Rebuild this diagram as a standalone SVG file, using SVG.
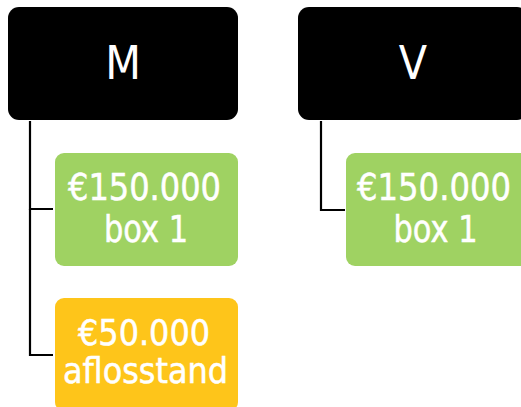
<svg xmlns="http://www.w3.org/2000/svg" width="521" height="407" viewBox="0 0 521 407">
  <style>
    .head { fill: #000000; }
    .green { fill: #9fd262; }
    .orange { fill: #fec51a; }
    .lbl { fill: #ffffff; font-family: "DejaVu Sans Condensed", "DejaVu Sans", sans-serif; text-anchor: middle; }
    .big { font-size: 46px; }
    .mid { font-size: 33px; stroke: #ffffff; stroke-width: 0.45; }
    .sml { font-size: 31px; stroke: #ffffff; stroke-width: 0.45; }
    .link { fill: none; stroke: #000000; stroke-width: 2.2; }
  </style>
  <rect width="521" height="407" fill="#ffffff"/>

  <g id="connectors">
    <path class="link" d="M30,121 V209 H53"/>
    <path class="link" d="M30,209 V355 H53"/>
    <path class="link" d="M321,121 V210 H345" stroke-width="1.7"/>
  </g>

  <g id="node-M">
    <rect class="head" x="8" y="7" width="230" height="113" rx="11"/>
    <text class="lbl big" x="123" y="79">M</text>
  </g>

  <g id="node-V">
    <rect class="head" x="298" y="7" width="230" height="113" rx="11"/>
    <text class="lbl big" x="413" y="79">V</text>
  </g>

  <!-- value labels are drawn slightly taller than the font's natural proportions -->
  <g id="node-M-box1">
    <rect class="green" x="55" y="153" width="183" height="113" rx="9"/>
    <text class="lbl mid" transform="translate(144.5,200) scale(1,1.12)" textLength="153" lengthAdjust="spacingAndGlyphs">€150.000</text>
    <text class="lbl mid" transform="translate(146,242) scale(1,1.12)" textLength="84" lengthAdjust="spacingAndGlyphs">box 1</text>
  </g>

  <g id="node-M-aflosstand">
    <rect class="orange" x="55" y="298" width="183" height="113" rx="9"/>
    <text class="lbl sml" transform="translate(144,345) scale(1,1.12)" textLength="132" lengthAdjust="spacingAndGlyphs">€50.000</text>
    <text class="lbl sml" transform="translate(145.5,383) scale(1,1.12)" textLength="165" lengthAdjust="spacingAndGlyphs">aflosstand</text>
  </g>

  <g id="node-V-box1">
    <rect class="green" x="346" y="153" width="183" height="113" rx="9"/>
    <text class="lbl mid" transform="translate(434,200) scale(1,1.12)" textLength="154" lengthAdjust="spacingAndGlyphs">€150.000</text>
    <text class="lbl mid" transform="translate(435.5,242) scale(1,1.12)" textLength="84" lengthAdjust="spacingAndGlyphs">box 1</text>
  </g>
</svg>
